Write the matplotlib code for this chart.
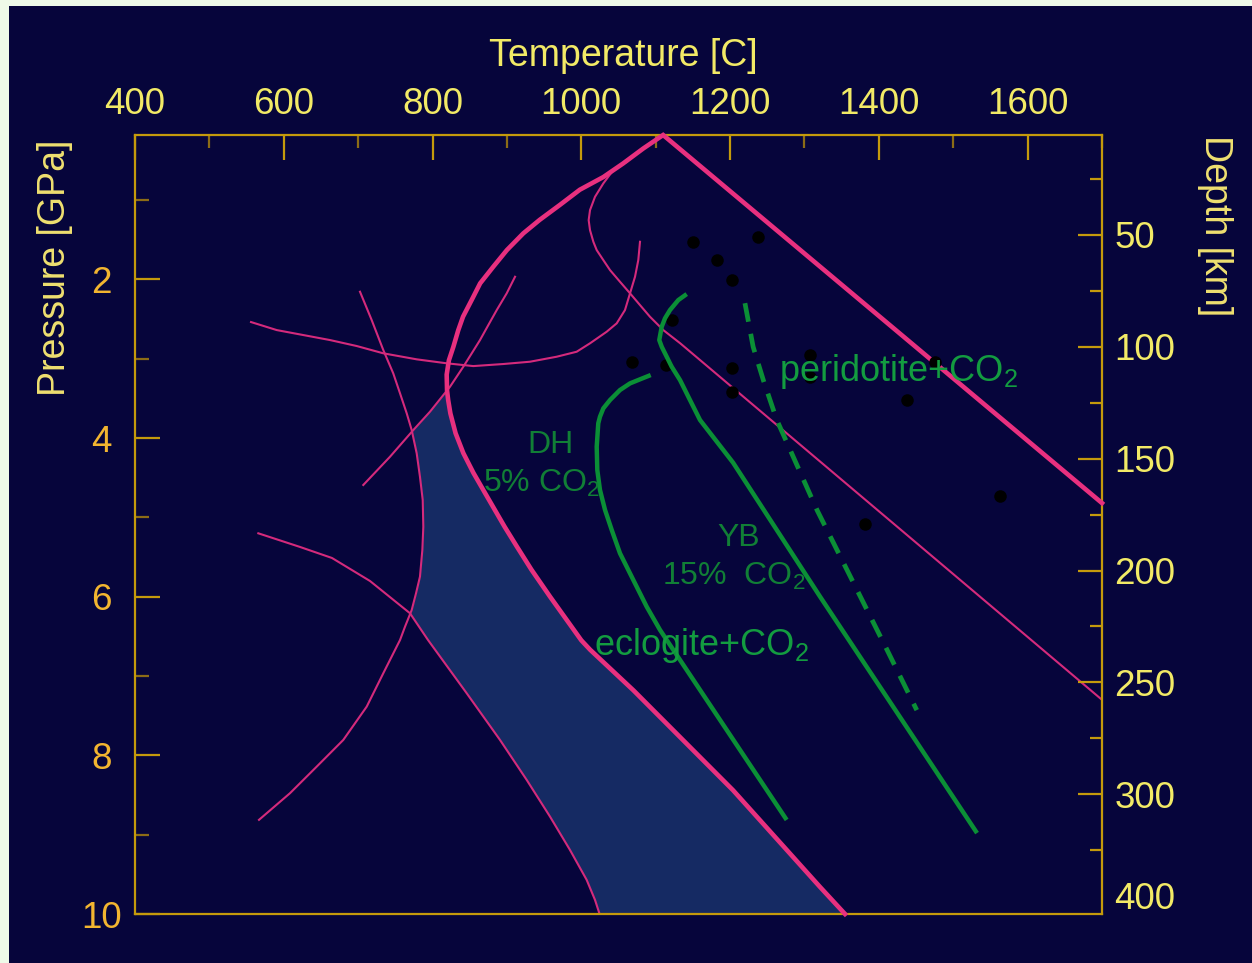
import numpy as np
import matplotlib.pyplot as plt
from matplotlib.patches import Rectangle

plt.rcParams['font.family'] = ['Liberation Sans', 'DejaVu Sans']
plt.rcParams['mathtext.default'] = 'regular'

# --- data (T in C, P in GPa) ---
# thick solidus: right branch (straight) + left branch from the apex down
liq_T = [1700, 1110]
liq_P = [4.82, 0.18]
sol_T = [1110, 1083.3, 1056, 1029.6, 998, 971.4, 944, 922, 900, 881.7, 864, 852.6, 841, 834.6, 828,
         822, 819, 819.5, 821, 824, 831, 841.4, 855, 871, 897, 913.5, 933, 958, 1000, 1012,
         1070, 1204, 1321, 1354.5]
sol_P = [0.18, 0.35, 0.54, 0.71, 0.87, 1.06, 1.25, 1.42, 1.63, 1.84, 2.05, 2.26, 2.47, 2.64, 2.85,
         3.02, 3.20, 3.40, 3.52, 3.69, 3.94, 4.19, 4.44, 4.70, 5.12, 5.37, 5.66, 6.00, 6.55, 6.67,
         7.18, 8.44, 9.66, 10.0]

# thin pink curves
adb_T = [1061, 1043, 1029.6, 1018.4, 1011.7, 1009.9, 1011.7, 1016.2, 1020.7, 1029.6, 1038.6,
         1052, 1065.5, 1078.9, 1092.3, 1110.2, 1133, 1700]
adb_P = [0.518, 0.623, 0.790, 0.959, 1.127, 1.253, 1.379, 1.526, 1.631, 1.757, 1.883,
         2.030, 2.176, 2.324, 2.471, 2.639, 2.806, 7.30]
arcu_T = [556, 590.5, 662.2, 698, 733.8, 778.7, 819, 854.8, 895.1, 931, 966.9, 993.8, 1011.7,
          1034.1, 1047.6, 1058.7, 1065.5, 1072.2, 1076.6, 1078.9]
arcu_P = [2.538, 2.639, 2.765, 2.840, 2.932, 3.008, 3.058, 3.093, 3.067, 3.038, 2.975, 2.912, 2.806,
          2.660, 2.554, 2.387, 2.176, 1.967, 1.757, 1.526]
line5_T = [706.9, 742.8, 774.1, 796.6, 823.5, 841.4, 852.7, 863.8, 875, 886.3, 899.7, 910.9]
line5_P = [4.592, 4.236, 3.900, 3.668, 3.353, 3.101, 2.932, 2.765, 2.576, 2.387, 2.176, 1.967]
arcA_T = [702.5, 718.2, 733.8, 747.2, 756.3, 765.3, 772, 778.7, 783.1, 786.8, 787.6, 786.3, 783.1,
          777.8, 772, 763, 756.3, 733.8, 711.5, 680, 644.3, 608.4, 566.7]
arcA_P = [2.156, 2.513, 2.891, 3.185, 3.437, 3.689, 3.900, 4.193, 4.488, 4.781, 5.118, 5.411, 5.748,
          5.957, 6.168, 6.378, 6.546, 6.965, 7.386, 7.806, 8.142, 8.477, 8.813]
arc4_T = [565.8, 621.8, 664.8, 715.9, 769.7, 793.9, 845.9, 890.7, 926.6, 957.9, 984.8, 1007.2,
          1018.4, 1024.2]
arc4_P = [5.201, 5.373, 5.512, 5.802, 6.209, 6.546, 7.217, 7.806, 8.310, 8.772, 9.193, 9.570,
          9.822, 9.990]

# green carbonated solidi
dh_T = [1093.3, 1078.9, 1065.5, 1052, 1038.6, 1029.6, 1025.1, 1022.8, 1020.7, 1021.5, 1025.1,
        1031.9, 1040.9, 1052, 1069.9, 1087.9, 1105.8, 1276.1]
dh_P = [3.206, 3.260, 3.311, 3.395, 3.521, 3.626, 3.731, 3.815, 4.109, 4.403, 4.655,
        4.907, 5.159, 5.453, 5.789, 6.126, 6.419, 8.814]
yb_T = [1141.7, 1130.4, 1119.2, 1112.5, 1108.1, 1104.8, 1108.1, 1112.5, 1121.5, 1132.7, 1146.1,
        1159.6, 1204, 1321, 1532]
yb_P = [2.185, 2.261, 2.387, 2.491, 2.597, 2.765, 2.849, 2.932, 3.101, 3.269, 3.521,
        3.773, 4.31, 6.00, 8.98]
per_T = [1220, 1231, 1244.7, 1262.7, 1317, 1411, 1451]
per_P = [2.30, 2.85, 3.27, 3.77, 4.91, 6.67, 7.43]

# experiments (black dots)
exp_T = [1150.6, 1238, 1183, 1203, 1121.5, 1067.7, 1114, 1202, 1202, 1307, 1307, 1475.5, 1438, 1563, 1381]
exp_P = [1.53, 1.46, 1.76, 2.01, 2.51, 3.04, 3.08, 3.12, 3.42, 2.95, 3.23, 3.04, 3.52, 4.73, 5.08]

# axes ticks
t_major = [400, 600, 800, 1000, 1200, 1400, 1600]
t_minor = [500, 700, 900, 1100, 1300, 1500, 1700]
p_major = [2, 4, 6, 8, 10]
p_minor = [1, 3, 5, 7, 9]
depth_major = [50, 100, 150, 200, 250, 300, 345]
depth_labels = ['50', '100', '150', '200', '250', '300', '400']
depth_minor = [25, 75, 125, 175, 225, 275, 325]
gpa_per_km = 0.02823

navy = '#06053b'
gold = '#c49a0c'
gold_minor = '#8c6c16'
yellow = '#f2ea66'
orange = '#f2b530'
pink = '#e8307f'
pink_thin = '#d42a7c'
green = '#0b8f36'
blue = '#152a63'

fig = plt.figure(figsize=(12.52, 9.63), dpi=100, facecolor='#eefae8')
fig.add_artist(Rectangle((9 / 1252, 0), 1, 957 / 963, transform=fig.transFigure,
                         facecolor=navy, edgecolor='none', zorder=-10))
ax = fig.add_axes([135 / 1252, 1 - 914 / 963, 967 / 1252, 779 / 963])
ax.set_facecolor(navy)
ax.set_xlim(400, 1700)
ax.set_ylim(10, 0.18)

# shaded field between the curves and the solidus
pp = np.linspace(0.18, 10, 800)
def branch(T, P):
    T, P = np.asarray(T, float), np.asarray(P, float)
    o = np.argsort(P)
    v = np.interp(pp, P[o], T[o])
    v[(pp < P.min()) | (pp > P.max())] = np.nan
    return v
left = np.nanmax(np.vstack([branch(arcA_T, arcA_P), branch(arc4_T, arc4_P),
                            branch(line5_T, line5_P)]), axis=0)
right = branch(sol_T, sol_P)
ok = np.isfinite(left) & (left < right)
ax.fill_betweenx(pp, np.where(ok, left, 0), np.where(ok, right, 0), where=ok,
                 color=blue, lw=0, zorder=1)

for T, P in [(adb_T, adb_P), (arcu_T, arcu_P), (line5_T, line5_P), (arcA_T, arcA_P), (arc4_T, arc4_P)]:
    ax.plot(T, P, color=pink_thin, lw=1.5, zorder=2)
ax.plot(liq_T + sol_T[1:], liq_P + sol_P[1:], color=pink, lw=3.3, zorder=3,
        solid_joinstyle='miter', clip_on=False)

ax.plot(exp_T, exp_P, 'o', color='black', ms=9, mew=0, zorder=3)

ax.plot(dh_T, dh_P, color=green, lw=3.2, zorder=4, solid_capstyle='butt')
ax.plot(yb_T, yb_P, color=green, lw=3.2, zorder=4, solid_capstyle='butt')
ax.plot(per_T, per_P, color=green, lw=3.4, zorder=4, dashes=(4, 2.6))

lab_dark = '#117f36'
lab_bright = '#139c40'
ax.text(958, 4.09, 'DH', color=lab_dark, fontsize=23, ha='center', va='center', zorder=5)
ax.text(947, 4.57, '5% CO$_2$', color=lab_dark, fontsize=23, ha='center', va='center', zorder=5)
ax.text(1211, 5.26, 'YB', color=lab_dark, fontsize=23, ha='center', va='center', zorder=5)
ax.text(1205, 5.75, '15%  CO$_2$', color=lab_dark, fontsize=23, ha='center', va='center', zorder=5)
ax.text(1161, 6.62, 'eclogite+CO$_2$', color=lab_bright, fontsize=26, ha='center', va='center', zorder=5)
ax.text(1426, 3.16, 'peridotite+CO$_2$', color=lab_bright, fontsize=26, ha='center', va='center', zorder=5)

# axes styling
for s in ax.spines.values():
    s.set_color(gold)
    s.set_linewidth(1.6)

ax.xaxis.tick_top()
ax.set_xticks(t_major)
ax.set_xticks(t_minor, minor=True)
ax.set_xticklabels([str(t) for t in t_major])
ax.set_yticks(p_major)
ax.set_yticks(p_minor, minor=True)
ax.set_yticklabels([str(p) for p in p_major])
ax.tick_params(axis='x', which='both', direction='in', color=gold, width=1.6,
               labelsize=26.5, labelcolor=yellow, pad=9)
ax.tick_params(axis='x', which='major', length=18)
ax.tick_params(axis='x', which='minor', length=9.5, color=gold_minor)
ax.tick_params(axis='y', which='both', direction='in', color=gold, width=1.6,
               labelsize=26.5, labelcolor=orange, pad=24)
ax.tick_params(axis='y', which='major', length=18)
ax.tick_params(axis='y', which='minor', length=10, color=gold_minor)
for lb in ax.get_yticklabels():
    lb.set_horizontalalignment('center')

ax2 = ax.twinx()
ax2.set_ylim(ax.get_ylim())
ax2.set_yticks([d * gpa_per_km + 0.024 for d in depth_major])
ax2.set_yticklabels(depth_labels)
ax2.set_yticks([d * gpa_per_km + 0.024 for d in depth_minor], minor=True)
ax2.tick_params(axis='y', which='both', direction='in', color=gold, width=1.6,
                labelsize=26.5, labelcolor=yellow, pad=9)
ax2.tick_params(axis='y', which='major', length=17)
ax2.tick_params(axis='y', which='minor', length=9)
ax2.yaxis.get_major_ticks()[-1].tick2line.set_visible(False)
for s in ax2.spines.values():
    s.set_visible(False)

ax.set_xlabel('Temperature [C]', fontsize=27, color=yellow, ha='center', va='center')
ax.xaxis.set_label_position('top')
ax.xaxis.set_label_coords(0.5047, 1.089)
ax.set_ylabel('Pressure [GPa]', fontsize=27, color='#efe070', rotation=90, ha='right', va='center')
ax.yaxis.set_label_coords(-0.0827, 0.9936)
ax2.set_ylabel('Depth [km]', fontsize=27, color='#efe070', rotation=270, ha='left', va='center')
ax2.yaxis.set_label_coords(1.1169, 1.0)

fig.savefig('out.png', dpi=100, facecolor=fig.get_facecolor())
